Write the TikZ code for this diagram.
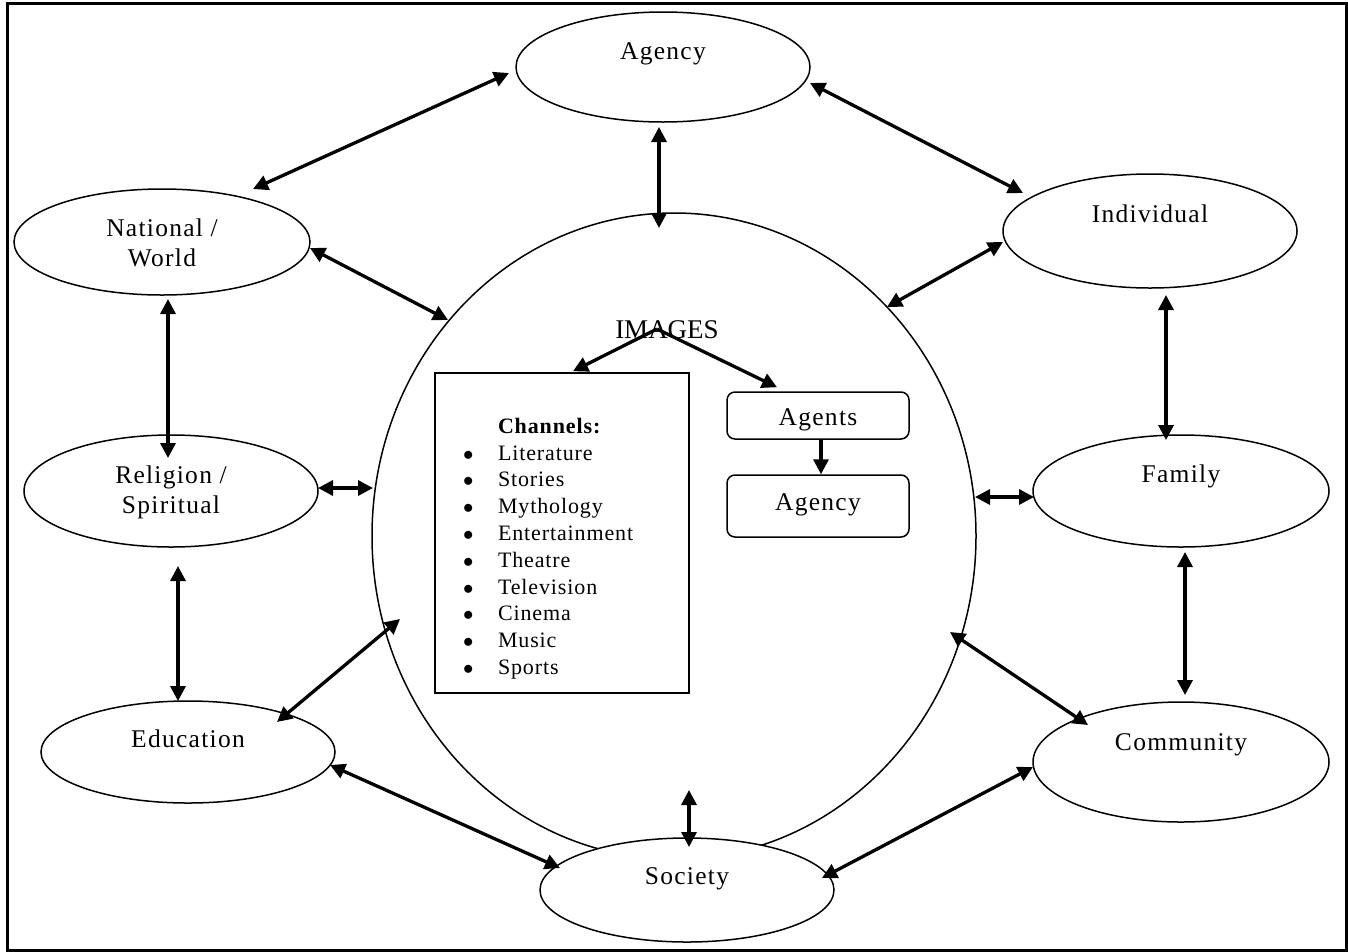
\documentclass[tikz,border=0pt]{standalone}
\usepackage{fontspec}
\setmainfont{Liberation Serif}
\newfontfamily\lblfont[LetterSpace=5]{Liberation Serif}
\newfontfamily\lstfont[LetterSpace=4]{Liberation Serif}
\usetikzlibrary{shapes.geometric,arrows.meta}
\begin{document}
\begin{tikzpicture}[x=1pt,y=-1pt,
  ell/.style={ellipse, draw, line width=1.5pt, fill=white, inner sep=0pt},
  txt/.style={font=\lblfont\fontsize{25.5}{30}\selectfont, align=center, inner sep=0pt, text height=17pt, text depth=5.5pt},
  link/.style={line width=3.3pt, {Triangle[length=15pt,width=15pt]}-{Triangle[length=15pt,width=15pt]}},
  one/.style={line width=3.3pt, -{Triangle[length=15pt,width=15pt]}},
  rbox/.style={draw, line width=1.5pt, rounded corners=8pt, minimum width=182pt, inner sep=0pt, font=\lblfont\fontsize{25.5}{30}\selectfont}
]
\useasboundingbox (0,0) rectangle (1348,951);
\draw[line width=3pt] (7,3.5) rectangle (1346,950);

% central circle
\node[ell, minimum width=604pt, minimum height=646pt] (hub) at (674,536) {};

% outer ellipses
\node[ell, minimum width=294pt, minimum height=104pt, label={[txt,yshift=11pt]center:Society}] (soc) at (687,890) {};
\node[ell, minimum width=294pt, minimum height=110pt, label={[txt,yshift=13pt]center:Agency}] (agency) at (663,67) {};
\node[ell, minimum width=296pt, minimum height=106pt, label={[txt,yshift=-19pt]center:National /\\World}] (nat) at (162,242) {};
\node[ell, minimum width=294pt, minimum height=114pt, label={[txt,yshift=14pt]center:Individual}] (ind) at (1150,231) {};
\node[ell, minimum width=294pt, minimum height=112pt, label={[txt,yshift=-17pt]center:Religion /\\Spiritual}] (rel) at (171,491) {};
\node[ell, minimum width=296pt, minimum height=112pt, label={[txt,yshift=14pt]center:Family}] (fam) at (1181,491) {};
\node[ell, minimum width=294pt, minimum height=102pt, label={[txt,yshift=10pt]center:Education}] (edu) at (188,752) {};
\node[ell, minimum width=296pt, minimum height=120pt, label={[txt,yshift=17pt]center:Community}] (com) at (1181,762) {};

% inner content
\node[font=\fontsize{27}{32}\selectfont, anchor=base, inner sep=0pt] (images) at (667,338) {IMAGES};

\node[draw, line width=1.6pt, inner sep=0pt] (channels) at (562,533) {\parbox[c][320pt][t]{254pt}{%
\lstfont\fontsize{22}{26.8}\selectfont\setlength{\parindent}{0pt}%
\vspace*{45pt}%
\hspace*{63pt}\textbf{Channels:}\\
\hspace*{28pt}\makebox[35pt][l]{$\bullet$}Literature\\
\hspace*{28pt}\makebox[35pt][l]{$\bullet$}Stories\\
\hspace*{28pt}\makebox[35pt][l]{$\bullet$}Mythology\\
\hspace*{28pt}\makebox[35pt][l]{$\bullet$}Entertainment\\
\hspace*{28pt}\makebox[35pt][l]{$\bullet$}Theatre\\
\hspace*{28pt}\makebox[35pt][l]{$\bullet$}Television\\
\hspace*{28pt}\makebox[35pt][l]{$\bullet$}Cinema\\
\hspace*{28pt}\makebox[35pt][l]{$\bullet$}Music\\
\hspace*{28pt}\makebox[35pt][l]{$\bullet$}Sports}};

\node[rbox, minimum height=47pt, text height=25pt, text depth=5.5pt] (agents) at (818,415.5) {Agents};
\node[rbox, minimum height=62pt, text height=13.5pt, text depth=5.5pt] (agency2) at (818,506) {Agency};

\draw[one] ([shift={(-10,-9)}]images.base) -- ([shift={(11,-1)}]channels.north);
\draw[one] ([shift={(-10,-9)}]images.base) -- ([shift={(-41,-4)}]agents.north);
\draw[one] ([xshift=3pt]agents.south) -- ([xshift=3pt]agency2.north);

% outer connectors
\draw[link] ([shift={(-154,6)}]agency.center) -- ([shift={(91,-53)}]nat.center);
\draw[link] ([shift={(147,16)}]agency.center) -- ([shift={(-127,-38)}]ind.center);
\draw[link] ([shift={(-4,60)}]agency.center) -- ([shift={(-15,-308)}]hub.center);
\draw[link] ([shift={(148,6)}]nat.center) -- ([shift={(-226,-216)}]hub.center);
\draw[link] ([shift={(-147,11)}]ind.center) -- ([shift={(213,-229)}]hub.center);
\draw[link] ([shift={(6,57)}]nat.center) -- ([shift={(-3,-33)}]rel.center);
\draw[link] ([shift={(147,-3)}]rel.center) -- ([shift={(-301,-48)}]hub.center);
\draw[link] ([shift={(7,75)}]rel.center) -- ([shift={(-10,-51)}]edu.center);
\draw[link] ([shift={(89,-30)}]edu.center) -- ([shift={(-274,83)}]hub.center);
\draw[link] ([shift={(142,13)}]edu.center) -- ([shift={(-127,-22)}]soc.center);
\draw[link] ([shift={(15,254)}]hub.center) -- ([shift={(2,-43)}]soc.center);
\draw[link] ([shift={(135,-12)}]soc.center) -- ([shift={(-148,5)}]com.center);
\draw[link] ([shift={(276,96)}]hub.center) -- ([shift={(-93,-37)}]com.center);
\draw[link] ([shift={(4,61)}]fam.center) -- ([shift={(4,-67)}]com.center);
\draw[link] ([shift={(16,64)}]ind.center) -- ([shift={(-15,-51)}]fam.center);
\draw[link] ([shift={(301,-39)}]hub.center) -- ([shift={(-147,6)}]fam.center);
\end{tikzpicture}
\end{document}
